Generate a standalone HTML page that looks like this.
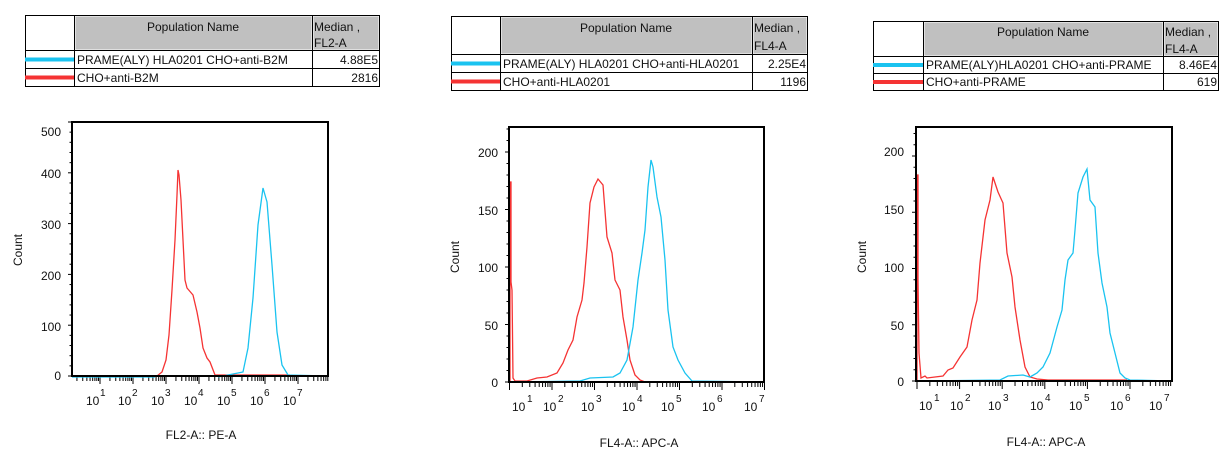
<!DOCTYPE html>
<html><head><meta charset="utf-8"><style>
html,body{margin:0;padding:0;background:#fff;}
svg{display:block;font-family:"Liberation Sans",Arial,sans-serif;}
text{fill:#111;}
.t{font-size:12px;}
.tk{font-size:12px;}
.sup{font-size:10px;}
</style></head><body>
<svg id="s" width="1229" height="458" viewBox="0 0 1229 458" xmlns="http://www.w3.org/2000/svg">
<!-- TABLE 1 -->
<g>
<rect x="75" y="16" width="237" height="34" fill="#c0c0c0" stroke="#fff" stroke-width="1"/>
<rect x="313" y="16" width="66" height="34" fill="#c0c0c0" stroke="#fff" stroke-width="1"/>
<rect x="25.5" y="15.5" width="354" height="71" fill="none" stroke="#000"/>
<line x1="74.5" y1="15" x2="74.5" y2="87" stroke="#000"/>
<line x1="312.5" y1="15" x2="312.5" y2="87" stroke="#000"/>
<line x1="25" y1="50.5" x2="380" y2="50.5" stroke="#000"/>
<line x1="25" y1="68.5" x2="380" y2="68.5" stroke="#000"/>
<line x1="25" y1="59.5" x2="74" y2="59.5" stroke="#1ac3f0" stroke-width="4"/>
<line x1="25" y1="77.5" x2="74" y2="77.5" stroke="#f53333" stroke-width="4"/>
<text class="t" x="193" y="31" text-anchor="middle">Population Name</text>
<text class="t" x="314" y="31">Median ,</text>
<text class="t" x="314" y="47">FL2-A</text>
<text class="t" x="77" y="64">PRAME(ALY) HLA0201 CHO+anti-B2M</text>
<text class="t" x="378" y="64" text-anchor="end">4.88E5</text>
<text class="t" x="77" y="82">CHO+anti-B2M</text>
<text class="t" x="378" y="82" text-anchor="end">2816</text>
</g>
<!-- TABLE 2 -->
<g>
<rect x="501" y="17" width="251" height="37" fill="#c0c0c0" stroke="#fff"/>
<rect x="753" y="17" width="54" height="37" fill="#c0c0c0" stroke="#fff"/>
<rect x="451.5" y="16.5" width="356" height="74" fill="none" stroke="#000"/>
<line x1="500.5" y1="16" x2="500.5" y2="91" stroke="#000"/>
<line x1="752.5" y1="16" x2="752.5" y2="91" stroke="#000"/>
<line x1="451" y1="54.5" x2="808" y2="54.5" stroke="#000"/>
<line x1="451" y1="72.5" x2="808" y2="72.5" stroke="#000"/>
<line x1="451" y1="63.5" x2="500" y2="63.5" stroke="#1ac3f0" stroke-width="4"/>
<line x1="451" y1="81.5" x2="500" y2="81.5" stroke="#f53333" stroke-width="4"/>
<text class="t" x="626" y="32" text-anchor="middle">Population Name</text>
<text class="t" x="754" y="32">Median ,</text>
<text class="t" x="754" y="50">FL4-A</text>
<text class="t" x="503" y="68">PRAME(ALY) HLA0201 CHO+anti-HLA0201</text>
<text class="t" x="806" y="68" text-anchor="end">2.25E4</text>
<text class="t" x="503" y="86">CHO+anti-HLA0201</text>
<text class="t" x="806" y="86" text-anchor="end">1196</text>
</g>
<!-- TABLE 3 -->
<g>
<rect x="924" y="22" width="239" height="34" fill="#c0c0c0" stroke="#fff"/>
<rect x="1164" y="22" width="54" height="34" fill="#c0c0c0" stroke="#fff"/>
<rect x="873.5" y="21.5" width="345" height="69" fill="none" stroke="#000"/>
<line x1="923.5" y1="21" x2="923.5" y2="91" stroke="#000"/>
<line x1="1163.5" y1="21" x2="1163.5" y2="91" stroke="#000"/>
<line x1="873" y1="56.5" x2="1219" y2="56.5" stroke="#000"/>
<line x1="873" y1="73.5" x2="1219" y2="73.5" stroke="#000"/>
<line x1="873" y1="65" x2="923" y2="65" stroke="#1ac3f0" stroke-width="4"/>
<line x1="873" y1="82" x2="923" y2="82" stroke="#f53333" stroke-width="4"/>
<text class="t" x="1043" y="36" text-anchor="middle">Population Name</text>
<text class="t" x="1165" y="36">Median ,</text>
<text class="t" x="1165" y="53">FL4-A</text>
<text class="t" x="926" y="69">PRAME(ALY)HLA0201 CHO+anti-PRAME</text>
<text class="t" x="1217" y="69" text-anchor="end">8.46E4</text>
<text class="t" x="926" y="86">CHO+anti-PRAME</text>
<text class="t" x="1217" y="86" text-anchor="end">619</text>
</g>

<g id="ticks" stroke="#000" stroke-width="1"></g>

<!-- PLOT 1 -->
<polyline fill="none" stroke="#f53333" stroke-width="1.3" points="72,376 157,376 162,372 166,360 169,335 172,290 175,240 177,195 178,170 179,175 181,200 183,240 185,280 187,288 193,295 197,312 200,328 203,348 207,358 210,362 215,375 290,375"/>
<polyline fill="none" stroke="#1ac3f0" stroke-width="1.3" points="72,377 155,377"/>
<polyline fill="none" stroke="#1ac3f0" stroke-width="1.3" points="218,377 233,374 243,372 248,348 253,298 258,225 263,188 267,202 272,265 277,332 282,365 288,375 328,376"/>
<rect x="72" y="122" width="256" height="254" fill="none" stroke="#000" stroke-width="2"/>
<text class="tk" x="61" y="136" text-anchor="end">500</text>
<text class="tk" x="61" y="178" text-anchor="end">400</text>
<text class="tk" x="61" y="229" text-anchor="end">300</text>
<text class="tk" x="61" y="280" text-anchor="end">200</text>
<text class="tk" x="61" y="331" text-anchor="end">100</text>
<text class="tk" x="61" y="380" text-anchor="end">0</text>
<text class="tk" transform="translate(22,250) rotate(-90)" text-anchor="middle">Count</text>
<g class="tk">
<text x="86" y="405">10</text><text class="sup" x="100" y="396">1</text>
<text x="118" y="405">10</text><text class="sup" x="132" y="396">2</text>
<text x="151" y="405">10</text><text class="sup" x="165" y="396">3</text>
<text x="184" y="405">10</text><text class="sup" x="198" y="396">4</text>
<text x="217" y="405">10</text><text class="sup" x="231" y="396">5</text>
<text x="250" y="405">10</text><text class="sup" x="264" y="396">6</text>
<text x="283" y="405">10</text><text class="sup" x="297" y="396">7</text>
</g>
<text class="tk" x="201" y="439" text-anchor="middle">FL2-A:: PE-A</text>

<!-- PLOT 2 -->
<polyline fill="none" stroke="#f53333" stroke-width="1.3" points="510,382 510,182 511,182 511,282 512,290 513,378 515,381 527,381 537,378 547,377 557,373 563,363 568,350 573,340 577,317 582,300 584,283 587,247 590,203 594,187 598,179 603,185 607,237 612,253 615,280 620,290 623,317 627,340 630,360 635,375 640,380 645,382 692,382"/>
<polyline fill="none" stroke="#1ac3f0" stroke-width="1.3" points="514,382 580,381 590,378 613,377 620,373 627,360 633,327 638,280 642,253 645,230 648,187 651,160 653,167 657,197 661,217 665,260 668,310 673,347 678,360 685,373 692,381 764,382"/>
<rect x="509" y="127" width="255" height="255" fill="none" stroke="#000" stroke-width="2"/>
<text class="tk" x="498" y="157" text-anchor="end">200</text>
<text class="tk" x="498" y="215" text-anchor="end">150</text>
<text class="tk" x="498" y="272" text-anchor="end">100</text>
<text class="tk" x="498" y="330" text-anchor="end">50</text>
<text class="tk" x="498" y="387" text-anchor="end">0</text>
<text class="tk" transform="translate(459,257) rotate(-90)" text-anchor="middle">Count</text>
<g class="tk">
<text x="512" y="411">10</text><text class="sup" x="527" y="402">1</text>
<text x="543" y="411">10</text><text class="sup" x="558" y="402">2</text>
<text x="581" y="411">10</text><text class="sup" x="596" y="402">3</text>
<text x="622" y="411">10</text><text class="sup" x="637" y="402">4</text>
<text x="661" y="411">10</text><text class="sup" x="676" y="402">5</text>
<text x="702" y="411">10</text><text class="sup" x="717" y="402">6</text>
<text x="744" y="411">10</text><text class="sup" x="759" y="402">7</text>
</g>
<text class="tk" x="639" y="447" text-anchor="middle">FL4-A:: APC-A</text>

<!-- PLOT 3 -->
<polyline fill="none" stroke="#f53333" stroke-width="1.3" points="917,381 917,175 918,175 918,280 919,353 921,378 925,376 927,378 943,376 948,370 953,368 960,357 967,347 972,320 977,300 980,263 985,220 990,200 993,177 998,192 1003,203 1007,253 1012,277 1015,307 1020,340 1025,367 1030,377 1037,379 1048,380 1127,380"/>
<polyline fill="none" stroke="#1ac3f0" stroke-width="1.3" points="921,381 1000,380 1008,376 1023,375 1030,377 1037,373 1043,367 1050,353 1057,327 1062,310 1065,280 1068,260 1073,253 1075,230 1078,193 1083,177 1087,169 1090,200 1095,207 1098,253 1102,283 1107,307 1110,333 1115,353 1120,373 1125,378 1130,380 1172,381"/>
<rect x="916" y="127" width="256" height="254" fill="none" stroke="#000" stroke-width="2"/>
<text class="tk" x="904" y="156" text-anchor="end">200</text>
<text class="tk" x="904" y="214" text-anchor="end">150</text>
<text class="tk" x="904" y="272" text-anchor="end">100</text>
<text class="tk" x="904" y="330" text-anchor="end">50</text>
<text class="tk" x="904" y="386" text-anchor="end">0</text>
<text class="tk" transform="translate(866,257) rotate(-90)" text-anchor="middle">Count</text>
<g class="tk">
<text x="919" y="410">10</text><text class="sup" x="934" y="401">1</text>
<text x="950" y="410">10</text><text class="sup" x="965" y="401">2</text>
<text x="988" y="410">10</text><text class="sup" x="1003" y="401">3</text>
<text x="1030" y="410">10</text><text class="sup" x="1045" y="401">4</text>
<text x="1069" y="410">10</text><text class="sup" x="1084" y="401">5</text>
<text x="1110" y="410">10</text><text class="sup" x="1125" y="401">6</text>
<text x="1149" y="410">10</text><text class="sup" x="1164" y="401">7</text>
</g>
<text class="tk" x="1046" y="446" text-anchor="middle">FL4-A:: APC-A</text>
</svg>
<script>
(function(){
var g=document.getElementById('ticks'),NS='http://www.w3.org/2000/svg';
function L(x1,y1,x2,y2){var l=document.createElementNS(NS,'line');l.setAttribute('x1',x1);l.setAttribute('y1',y1);l.setAttribute('x2',x2);l.setAttribute('y2',y2);g.appendChild(l);}
function yt(x,y0,ppu,step,max,major){for(var v=0;v<=max+0.01;v+=step){var y=y0-v*ppu;var m=Math.abs(v/major-Math.round(v/major))<1e-6;L(x-(m?4:2.5),y,x,y);}}
yt(72,376,254/500,20,500,100);
yt(509,382,1.15,10,220,50);
yt(916,381,1.125,10,220,50);
function xt(left,right,y,origin,dec){for(var k=-1;k<10;k++){for(var m=1;m<10;m++){var x=origin+dec*(k+Math.log10(m));if(x<left-0.5||x>right+0.5)continue;L(x,y,x,y+(m==1?7:4));}}}
xt(72,328,377,67,33);
xt(509,764,383,509.5-42.5,42.5);
xt(916,1172,382,917-42.6,42.6);
})();
</script>
</body></html>
